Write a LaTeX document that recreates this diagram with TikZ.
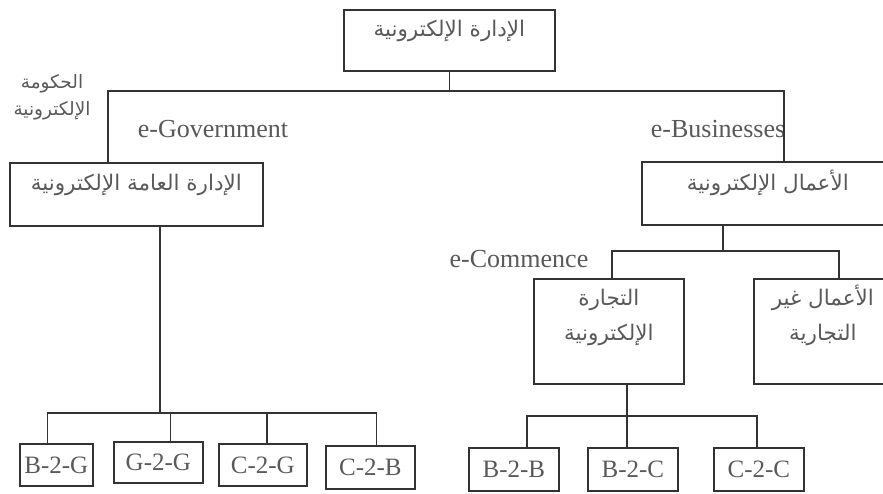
\documentclass[tikz,border=0pt]{standalone}
\usepackage{fontspec}
\setmainfont{Liberation Serif}
\newfontfamily\arabicfont[Script=Arabic]{DejaVu Sans}
\TeXXeTstate=1
\usetikzlibrary{calc}

\begin{document}
\begin{tikzpicture}
      [x=1pt,y=-1pt
    % box and text looks
      ,box/.style={draw=black!80,line width=1.7pt,inner sep=0pt,anchor=north west,text=black!65}
      ,ar/.style={font=\arabicfont\fontsize{21.5}{35}\selectfont,align=center}
      ,lat/.style={font=\fontsize{25}{30}\selectfont}
      ,tag/.style={text=black!65,inner sep=0pt}
      ,line/.style={draw=black!80,line width=1.7pt}
      ]
        \clip (0,0) rectangle (883,493);
    % upper levels
        \node[box,ar,minimum width=211pt,minimum height=61pt,text height=27pt,text depth=34pt]
            (top) at (343,9) {\beginR الإدارة الإلكترونية\endR};
        \node[box,ar,minimum width=253pt,minimum height=63pt,text height=28pt,text depth=35pt]
            (gov) at (9,162) {\beginR الإدارة العامة الإلكترونية\endR};
        \node[box,ar,minimum width=252pt,minimum height=63pt,text height=29pt,text depth=34pt]
            (bus) at (641,161) {\beginR الأعمال الإلكترونية\endR};
        \node[box,ar,minimum width=150pt,minimum height=105pt,text height=62pt,text depth=43pt]
            (ecom) at (533,278) {\beginR التجارة\endR\\\beginR الإلكترونية\endR};
        \node[box,ar,minimum width=138pt,minimum height=105pt,text height=62pt,text depth=43pt]
            (nonc) at (753,278) {\beginR الأعمال غير\endR\\\beginR التجارية\endR};
    % lowest level
        \node[box,lat,minimum width=73pt,minimum height=42pt] (bg) at (19,443) {B-2-G};
        \node[box,lat,minimum width=89pt,minimum height=41pt] (gg) at (113,441) {G-2-G};
        \node[box,lat,minimum width=88pt,minimum height=42pt] (cg) at (218,443) {C-2-G};
        \node[box,lat,minimum width=89pt,minimum height=43pt] (cb) at (325,445) {C-2-B};
        \node[box,lat,minimum width=90pt,minimum height=43pt] (bb) at (468,447) {B-2-B};
        \node[box,lat,minimum width=90pt,minimum height=43pt] (bc) at (587,447) {B-2-C};
        \node[box,lat,minimum width=90pt,minimum height=43pt] (cc) at (713,447) {C-2-C};
    % free labels
        \node[tag,font=\arabicfont\fontsize{18.5}{27}\selectfont,align=center]
            (golab) at (52,97) {\beginR الحكومة\endR\\\beginR الإلكترونية\endR};
        \node[tag,font=\fontsize{26}{30}\selectfont] (egov) at (213,129) {e-Government};
        \node[tag,font=\fontsize{26}{30}\selectfont] (ebus) at (718,129) {e-Businesses};
        \node[tag,font=\fontsize{26}{30}\selectfont] (ecomlab) at (519,259) {e-Commence};
    % connectors
        \coordinate (hub1) at (top.south |- 0,91);
        \coordinate (hub2) at ([xshift=151pt]gov.south west |- 0,413);
        \coordinate (hub3) at ([xshift=82pt]bus.south west |- 0,251);
        \coordinate (hub4) at ([xshift=18pt]ecom.south |- 0,416);
        \draw[line] (top.south) -- (hub1);
        \draw[line] ([xshift=99pt]gov.north west) |- (hub1) -| ([xshift=143pt]bus.north west);
        \draw[line] ([xshift=151pt]gov.south west) -- (hub2);
        \draw[line] ([xshift=-9pt]bg.north) |- (hub2) -| ([xshift=6pt]cb.north);
        \draw[line] ([xshift=12pt]gg.north) -- ([xshift=12pt]gg.north |- hub2);
        \draw[line] ([xshift=4pt]cg.north) -- ([xshift=4pt]cg.north |- hub2);
        \draw[line] ([xshift=82pt]bus.south west) -- (hub3);
        \draw[line] ([xshift=3pt]ecom.north) |- (hub3) -| ([xshift=16pt]nonc.north);
        \draw[line] ([xshift=18pt]ecom.south) -- (hub4);
        \draw[line] ([xshift=-6pt]bc.north) -- ([xshift=-6pt]bc.north |- hub4);
        \draw[line] ([xshift=13pt]bb.north) |- (hub4) -| ([xshift=-2pt]cc.north);
       \end{tikzpicture}
\end{document}
